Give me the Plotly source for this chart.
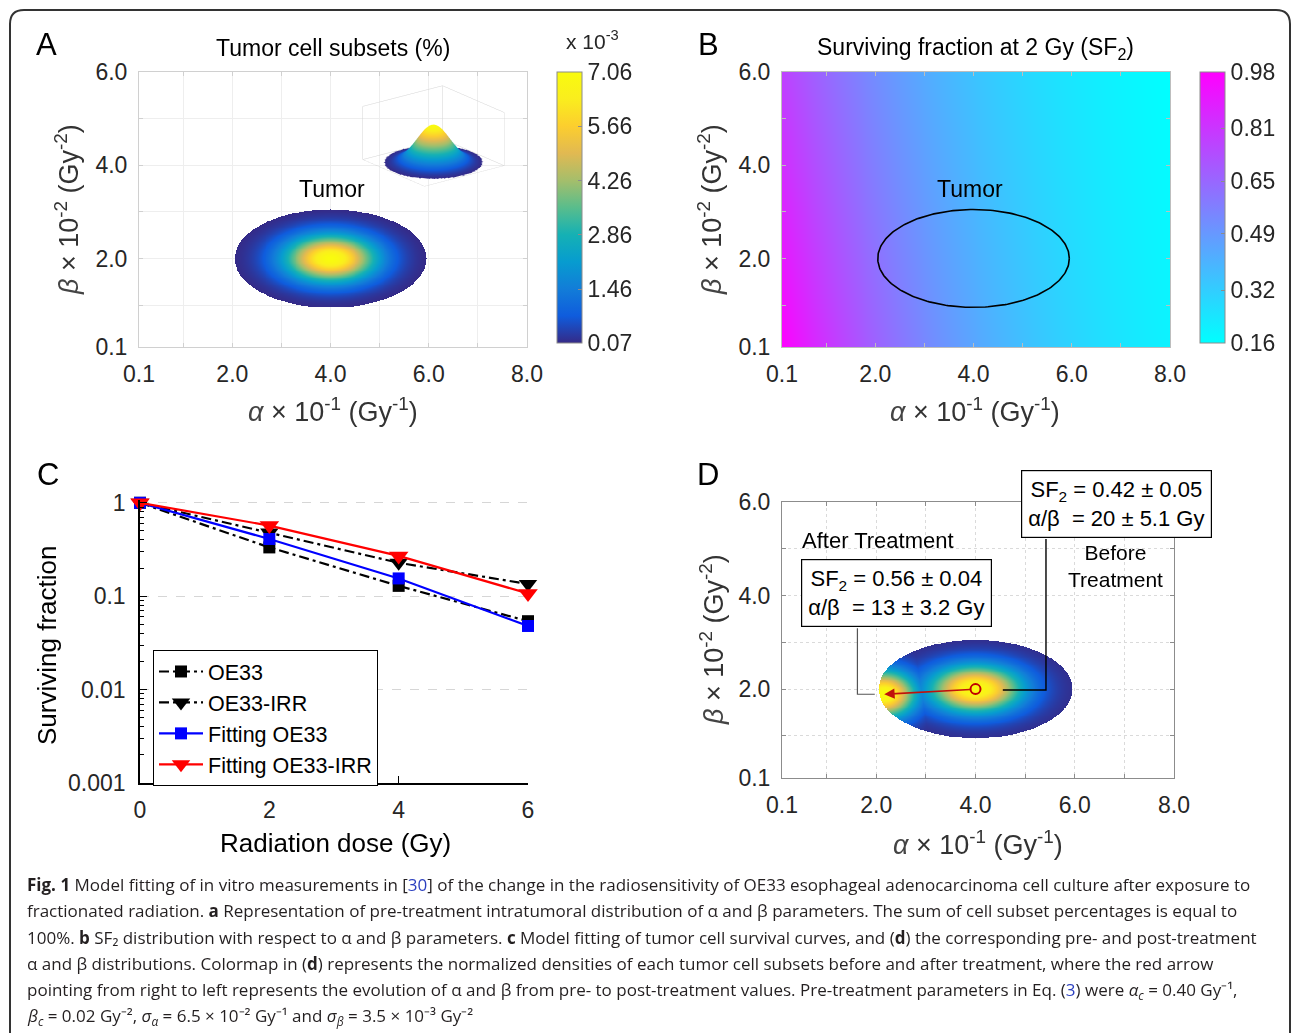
import numpy as np
import plotly.graph_objects as go

W, H = 1292, 1033

# ---------------- data / parameters (display units: alpha x10^-1 Gy^-1, beta x10^-2 Gy^-2)
alpha_c = 4.0        # 0.40 Gy^-1
beta_c = 2.0         # 0.02 Gy^-2
sigma_alpha = 0.65   # 6.5e-2 Gy^-1
sigma_beta = 0.35    # 3.5e-3 Gy^-2
n_sigma = 3.0
peak_pct = 7.06      # x10^-3 %
dose_sf2 = 2.0
cb_a_ticks = [0.07, 1.46, 2.86, 4.26, 5.66, 7.06]
cb_b_ticks = [0.16, 0.32, 0.49, 0.65, 0.81, 0.98]

post_center = [2.16, 1.89]
post_sigma = [0.45, 0.35]

dose = [0, 2, 4, 6]
sf_oe33 = [1.0, 0.333, 0.129, 0.054]
sf_oe33_irr = [1.0, 0.48, 0.228, 0.135]
fit_oe33 = [1.0, 0.41, 0.155, 0.048]
fit_oe33_irr = [1.0, 0.57, 0.27, 0.107]

ab_ticks = [0.1, 1, 2, 3, 4, 5, 6, 7, 8]
ab_ticktext = ['0.1', '', '2.0', '', '4.0', '', '6.0', '', '8.0']
b_ticks = [0.1, 1, 2, 3, 4, 5, 6]
b_ticktext = ['0.1', '', '2.0', '', '4.0', '', '6.0']
c_yticks = [0.001, 0.01, 0.1, 1]
c_yticktext = ['0.001', '0.01', '0.1', '1']

parula = [[0.0, 'rgb(53,42,135)'], [0.1, 'rgb(15,92,221)'], [0.2, 'rgb(18,125,216)'],
          [0.3, 'rgb(7,156,207)'], [0.4, 'rgb(21,177,180)'], [0.5, 'rgb(89,189,140)'],
          [0.6, 'rgb(165,190,107)'], [0.7, 'rgb(225,185,82)'], [0.8, 'rgb(252,206,46)'],
          [0.9, 'rgb(250,237,30)'], [1.0, 'rgb(249,251,14)']]
cool = [[0.0, 'rgb(0,255,255)'], [1.0, 'rgb(255,0,255)']]

FONT = 'Liberation Sans'
TXT = '#262626'


def px(x):
    return x / W


def py(y):
    return 1 - y / H


# ---------------- derived grids
xa = np.linspace(1.9, 6.1, 421)
ya = np.linspace(0.85, 3.15, 231)
XA, YA = np.meshgrid(xa, ya)
R2 = ((XA - alpha_c) / sigma_alpha) ** 2 + ((YA - beta_c) / sigma_beta) ** 2
inside = R2 <= n_sigma ** 2
ZA = np.where(inside, peak_pct * np.exp(-0.5 * R2), np.nan)

f_pre = np.exp(-0.5 * R2)
f_post = np.exp(-0.5 * (((XA - post_center[0]) / post_sigma[0]) ** 2 +
                        ((YA - post_center[1]) / post_sigma[1]) ** 2))
ZD = np.where(inside, np.maximum(f_pre, f_post), np.nan)

xb = np.linspace(0.1, 8.0, 80)
yb = np.linspace(0.1, 6.0, 60)
XB, YB = np.meshgrid(xb, yb)
ZB = np.exp(-dose_sf2 * XB / 10.0 - dose_sf2 ** 2 * YB / 100.0)

t = np.linspace(0, 2 * np.pi, 240)
ell_x = alpha_c + n_sigma * sigma_alpha * np.cos(t)
ell_y = beta_c + n_sigma * sigma_beta * np.sin(t)

ax_lo, ax_hi = alpha_c - n_sigma * sigma_alpha, alpha_c + n_sigma * sigma_alpha
by_lo, by_hi = beta_c - n_sigma * sigma_beta, beta_c + n_sigma * sigma_beta
xs = np.linspace(ax_lo, ax_hi, 81)
ys = np.linspace(by_lo, by_hi, 61)
XS, YS = np.meshgrid(xs, ys)
R2S = ((XS - alpha_c) / sigma_alpha) ** 2 + ((YS - beta_c) / sigma_beta) ** 2
ZS = np.where(R2S <= n_sigma ** 2 * 1.001, peak_pct * np.exp(-0.5 * R2S), np.nan)

fig = go.Figure()

# A heatmap
fig.add_trace(go.Heatmap(
    x=xa, y=ya, z=ZA, colorscale=parula, zmin=cb_a_ticks[0], zmax=cb_a_ticks[-1],
    xaxis='x', yaxis='y', hoverinfo='skip',
    colorbar=dict(x=px(557), xanchor='left', y=py(72), yanchor='top',
                  len=271 / H, lenmode='fraction', thickness=25, thicknessmode='pixels',
                  xpad=0, ypad=0, outlinecolor='#8c8c8c', outlinewidth=1,
                  tickvals=cb_a_ticks, ticktext=[f'{v:.2f}' for v in cb_a_ticks],
                  ticks='inside', ticklen=4, tickcolor='#8c8c8c',
                  tickfont=dict(family=FONT, size=23, color=TXT))))

# A inset surface
fig.add_trace(go.Surface(
    x=xs, y=ys, z=ZS, colorscale=parula, cmin=cb_a_ticks[0], cmax=cb_a_ticks[-1],
    showscale=False, scene='scene', hoverinfo='skip',
    lighting=dict(ambient=1.0, diffuse=0.0, specular=0.0, fresnel=0.0, roughness=1.0)))

# B heatmap
fig.add_trace(go.Heatmap(
    x=xb, y=yb, z=ZB, colorscale=cool, zmin=cb_b_ticks[0], zmax=cb_b_ticks[-1],
    zsmooth='best', xaxis='x2', yaxis='y2', hoverinfo='skip',
    colorbar=dict(x=px(1200), xanchor='left', y=py(72), yanchor='top',
                  len=271 / H, lenmode='fraction', thickness=25, thicknessmode='pixels',
                  xpad=0, ypad=0, outlinecolor='#8c8c8c', outlinewidth=1,
                  tickvals=cb_b_ticks, ticktext=[f'{v:.2f}' for v in cb_b_ticks],
                  ticks='inside', ticklen=4, tickcolor='#8c8c8c',
                  tickfont=dict(family=FONT, size=23, color=TXT))))
fig.add_trace(go.Scatter(x=ell_x, y=ell_y, mode='lines', line=dict(color='black', width=1.6),
                         xaxis='x2', yaxis='y2', showlegend=False, hoverinfo='skip'))

# C survival curves
fig.add_trace(go.Scatter(x=dose, y=sf_oe33, name='OE33', mode='lines+markers',
                         line=dict(color='black', width=2.2, dash='10px,4px,3px,4px'),
                         marker=dict(symbol='square', size=12, color='black'),
                         xaxis='x3', yaxis='y3', cliponaxis=False))
fig.add_trace(go.Scatter(x=dose, y=sf_oe33_irr, name='OE33-IRR', mode='lines+markers',
                         line=dict(color='black', width=2.2, dash='10px,4px,3px,4px'),
                         marker=dict(symbol='triangle-down', size=16, color='black'),
                         xaxis='x3', yaxis='y3', cliponaxis=False))
fig.add_trace(go.Scatter(x=dose, y=fit_oe33, name='Fitting OE33', mode='lines+markers',
                         line=dict(color='#0000ff', width=2.2),
                         marker=dict(symbol='square', size=12, color='#0000ff'),
                         xaxis='x3', yaxis='y3', cliponaxis=False))
fig.add_trace(go.Scatter(x=dose, y=fit_oe33_irr, name='Fitting OE33-IRR', mode='lines+markers',
                         line=dict(color='#ff0000', width=2.2),
                         marker=dict(symbol='triangle-down', size=17, color='#ff0000'),
                         xaxis='x3', yaxis='y3', cliponaxis=False))

# D heatmap
fig.add_trace(go.Heatmap(x=xa, y=ya, z=ZD, colorscale=parula, zmin=0, zmax=1,
                         showscale=False, xaxis='x4', yaxis='y4', hoverinfo='skip'))
fig.add_trace(go.Scatter(x=[alpha_c], y=[beta_c], mode='markers',
                         marker=dict(symbol='circle-open', size=10, color='#c00000',
                                     line=dict(width=2, color='#c00000')),
                         xaxis='x4', yaxis='y4', showlegend=False, hoverinfo='skip'))

tickfont = dict(family=FONT, size=23, color=TXT)


def ab_xaxis(domain, anchor, linecolor, gridcolor, griddash):
    return dict(domain=domain, anchor=anchor, range=[0.1, 8.0], tickvals=ab_ticks,
                ticktext=ab_ticktext, showline=True, mirror='ticks', linecolor=linecolor,
                linewidth=1, showgrid=True, gridcolor=gridcolor, griddash=griddash,
                zeroline=False, ticks='inside', ticklen=4, tickcolor=linecolor,
                tickfont=tickfont, ticklabelstandoff=6)


def ab_yaxis(domain, anchor, linecolor, gridcolor, griddash):
    return dict(domain=domain, anchor=anchor, range=[0.1, 6.0], tickvals=b_ticks,
                ticktext=b_ticktext, showline=True, mirror='ticks', linecolor=linecolor,
                linewidth=1, showgrid=True, gridcolor=gridcolor, griddash=griddash,
                zeroline=False, ticks='inside', ticklen=4, tickcolor=linecolor,
                tickfont=tickfont, ticklabelstandoff=6)


scene_ax = dict(showticklabels=False, title=dict(text=''), showgrid=True, gridcolor='#d4d4d4',
                gridwidth=1, showbackground=False, zeroline=False, showspikes=False,
                ticks='', showline=False)
asp = 1.8

fig.update_layout(
    width=W, height=H, margin=dict(l=0, r=0, t=0, b=0, pad=0, autoexpand=False),
    paper_bgcolor='white', plot_bgcolor='white', showlegend=True,
    font=dict(family=FONT, color='black'),
    xaxis=ab_xaxis([px(139), px(527)], 'y', '#d0d0d0', '#eeeeee', 'solid'),
    yaxis=ab_yaxis([py(347), py(72)], 'x', '#d0d0d0', '#eeeeee', 'solid'),
    xaxis2=ab_xaxis([px(782), px(1170)], 'y2', '#bdbdbd', '#eeeeee', 'solid'),
    yaxis2=ab_yaxis([py(347), py(72)], 'x2', '#bdbdbd', '#eeeeee', 'solid'),
    xaxis4=ab_xaxis([px(782), px(1174)], 'y4', '#8c8c8c', '#dadada', 'dot'),
    yaxis4=ab_yaxis([py(778), py(502)], 'x4', '#8c8c8c', '#dadada', 'dot'),
    xaxis3=dict(domain=[px(140), px(528)], anchor='y3', range=[0, 6], tickvals=dose,
                showline=True, linecolor='black', linewidth=1.5, showgrid=False,
                zeroline=False, ticks='inside', ticklen=7, tickcolor='black',
                tickfont=tickfont, ticklabelstandoff=6),
    yaxis3=dict(domain=[py(783), py(500)], anchor='x3', type='log', range=[-3, 0.03],
                tickvals=c_yticks, ticktext=c_yticktext, showline=True, linecolor='black',
                linewidth=1.5, showgrid=True, gridcolor='#d6d6d6', griddash='dash',
                zeroline=False, ticks='inside', ticklen=7, tickcolor='black',
                tickfont=tickfont, ticklabelstandoff=8,
                minor=dict(ticks='inside', ticklen=4, tickcolor='black', showgrid=False,
                           tickvals=[m * 10.0 ** e for e in (-3, -2, -1) for m in range(2, 10)])),
    legend=dict(x=px(153), y=py(650), xanchor='left', yanchor='top', bgcolor='white',
                bordercolor='black', borderwidth=1, font=dict(family=FONT, size=21.5, color='black'),
                tracegroupgap=0, itemwidth=44),
    scene=dict(domain=dict(x=[px(352), px(515)], y=[py(192), py(80)]),
               xaxis=dict(range=[ax_lo, ax_hi], tickvals=[ax_lo, ax_hi], **scene_ax),
               yaxis=dict(range=[by_lo, by_hi], tickvals=[by_lo, by_hi], **scene_ax),
               zaxis=dict(range=[0, 10.0], tickvals=[0, 10.0], **scene_ax),
               aspectmode='manual', aspectratio=dict(x=asp, y=asp, z=0.56 * asp),
               camera=dict(eye=dict(x=-1.15, y=-1.49, z=0.67),
                           projection=dict(type='orthographic')),
               bgcolor='rgba(0,0,0,0)'),
)

ann = []


def text(x, y, s, size=24, color='black', angle=0, xanchor='center', family=FONT, **kw):
    ann.append(dict(x=px(x), y=py(y), xref='paper', yref='paper', text=s, showarrow=False,
                    xanchor=xanchor, yanchor='middle', textangle=angle,
                    font=dict(family=family, size=size, color=color), **kw))


GR = '<span style="color:#444"><i>%s</i></span>'
xt = GR % 'α' + ' × 10<sup>-1</sup> (Gy<sup>-1</sup>)'
yt = GR % 'β' + ' × 10<sup>-2</sup> (Gy<sup>-2</sup>)'

# panel letters
text(47, 44, 'A', size=31)
text(708, 44, 'B', size=31)
text(48, 474, 'C', size=31)
text(708, 474, 'D', size=31)

# titles
text(333, 48, 'Tumor cell subsets (%)', size=23)
text(975, 48, 'Surviving fraction at 2 Gy (SF<sub>2</sub>)', size=23)
text(592, 40, 'x 10<sup>-3</sup>', size=21, color=TXT)
text(332, 189, 'Tumor', size=23)
text(970, 189, 'Tumor', size=23)

# axis titles
text(333, 410, xt, size=27, color='#333')
text(67, 210, yt, size=27, color='#333', angle=-90)
text(975, 410, xt, size=27, color='#333')
text(710, 210, yt, size=27, color='#333', angle=-90)
text(978, 843, xt, size=27, color='#333')
text(712, 640, yt, size=27, color='#333', angle=-90)
text(335, 843, 'Radiation dose (Gy)', size=26)
text(47, 645, 'Surviving fraction', size=26, angle=-90)

# panel D texts
text(878, 540, 'After Treatment', size=22)
text(1115, 566, 'Before<br>Treatment', size=21)
text(896.5, 592.5, 'SF<sub>2</sub> = 0.56 ± 0.04<br>α/β  = 13 ± 3.2 Gy', size=22,
     bordercolor='black', borderwidth=1.2, borderpad=6, bgcolor='white', align='center')
text(1116.5, 503.5, 'SF<sub>2</sub> = 0.42 ± 0.05<br>α/β  = 20 ± 5.1 Gy', size=22,
     bordercolor='black', borderwidth=1.2, borderpad=6, bgcolor='white', align='center')

# red arrow (post <- pre)
ann.append(dict(x=post_center[0], y=post_center[1], ax=alpha_c, ay=beta_c,
                xref='x4', yref='y4', axref='x4', ayref='y4', text='', showarrow=True,
                arrowhead=2, arrowsize=1.3, arrowwidth=1.6, arrowcolor='#c0120c',
                standoff=0, startstandoff=4))

# caption
BL = '<span style="color:#2b3fbf">%s</span>'
cap = [
    '<b>Fig. 1</b> Model fitting of in vitro measurements in [' + BL % '30' + '] of the change in the radiosensitivity of OE33 esophageal adenocarcinoma cell culture after exposure to',
    'fractionated radiation. <b>a</b> Representation of pre-treatment intratumoral distribution of α and β parameters. The sum of cell subset percentages is equal to',
    '100%. <b>b</b> SF₂ distribution with respect to α and β parameters. <b>c</b> Model fitting of tumor cell survival curves, and (<b>d</b>) the corresponding pre- and post-treatment',
    'α and β distributions. Colormap in (<b>d</b>) represents the normalized densities of each tumor cell subsets before and after treatment, where the red arrow',
    'pointing from right to left represents the evolution of α and β from pre- to post-treatment values. Pre-treatment parameters in Eq. (' + BL % '3' + ') were <i>α<sub>c</sub></i> = 0.40 Gy⁻¹,',
    '<i>β<sub>c</sub></i> = 0.02 Gy⁻², <i>σ<sub>α</sub></i> = 6.5 × 10⁻² Gy⁻¹ and <i>σ<sub>β</sub></i> = 3.5 × 10⁻³ Gy⁻²',
]
cap_y = [884, 910, 937, 963, 990, 1016]
for s, yy in zip(cap, cap_y):
    text(25, yy, s, size=17, color='#231f20', xanchor='left', family='Open Sans', align='left')

fig.update_layout(annotations=ann)

# leader lines in D and frame
shapes = [
    dict(type='path', xref='x4', yref='y4', path='M 1.62 3.30 L 1.62 1.89 L 1.97 1.89',
         line=dict(color='#555555', width=1.2)),
    dict(type='path', xref='x4', yref='y4', path='M 5.42 5.21 L 5.42 1.98 L 4.55 1.98',
         line=dict(color='black', width=1.4)),
]
r = 14
frame = (f'M {px(10)} {py(1033)} L {px(10)} {py(10 + r)} Q {px(10)} {py(10)} {px(10 + r)} {py(10)} '
         f'L {px(1290 - r)} {py(10)} Q {px(1290)} {py(10)} {px(1290)} {py(10 + r)} L {px(1290)} {py(1033)}')
shapes.append(dict(type='path', xref='paper', yref='paper', path=frame,
                   line=dict(color='#333333', width=2)))
fig.update_layout(shapes=shapes)

fig.write_html('out.html')
